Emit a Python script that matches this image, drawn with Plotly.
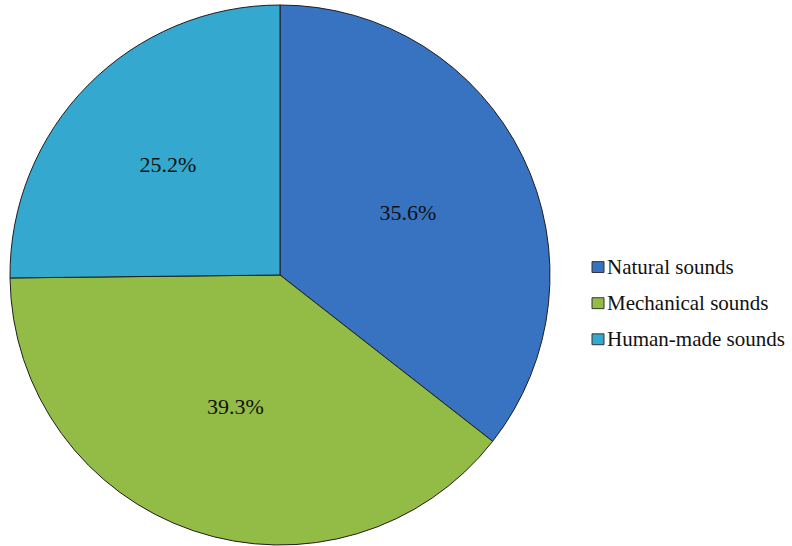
import plotly.graph_objects as go

# Share of sound sources
labels = ["Natural sounds", "Mechanical sounds", "Human-made sounds"]
values = [35.6, 39.3, 25.2]
colors = ["#3873C2", "#93BC47", "#35A8CF"]

W, H = 792, 546
FONT = "Liberation Serif"

fig = go.Figure(
    go.Pie(
        labels=labels,
        values=values,
        sort=False,
        direction="clockwise",
        rotation=0,
        marker=dict(colors=colors, line=dict(color="#1e1e1e", width=1)),
        texttemplate="%{value:.1f}%",
        textposition="inside",
        insidetextorientation="horizontal",
        textfont=dict(family=FONT, size=22, color="#111111"),
        domain=dict(x=[10 / W, 550 / W], y=[0, 1]),
        showlegend=False,
        hoverinfo="label+percent",
    )
)

# Legend: swatch + label per category
shapes, annotations = [], []
row_y = [265, 301.5, 338]
for name, col, y in zip(labels, colors, row_y):
    shapes.append(dict(
        type="rect", xref="paper", yref="paper",
        x0=592 / W, x1=604 / W,
        y0=1 - (y + 5.5) / H, y1=1 - (y - 5.5) / H,
        fillcolor=col, line=dict(color="#333333", width=1),
    ))
    annotations.append(dict(
        text=name, xref="paper", yref="paper",
        x=605 / W, y=1 - y / H, xanchor="left", yanchor="middle",
        showarrow=False, font=dict(family=FONT, size=21, color="#111111"),
    ))

fig.update_layout(
    width=W, height=H,
    margin=dict(l=0, r=0, t=5, b=1),
    paper_bgcolor="white",
    plot_bgcolor="white",
    font=dict(family=FONT),
    shapes=shapes,
    annotations=annotations,
)

fig.write_html("out.html")
